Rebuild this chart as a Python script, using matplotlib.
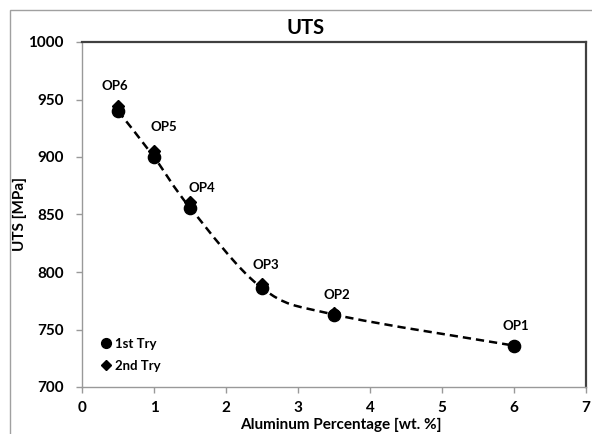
import matplotlib
matplotlib.use("Agg")
import matplotlib.pyplot as plt
import numpy as np
from matplotlib.path import Path
from matplotlib.patches import PathPatch, Rectangle

plt.rcParams["font.family"] = ["Lato", "DejaVu Sans"]
plt.rcParams["font.weight"] = "bold"

# Data
aluminum = [0.5, 1.0, 1.5, 2.5, 3.5, 6.0]
uts_try1 = [940, 900, 856, 786, 763, 736]
uts_try2 = [944, 905, 861, 790, 764, 736]
point_labels = ["OP6", "OP5", "OP4", "OP3", "OP2", "OP1"]

x_ticks = [0, 1, 2, 3, 4, 5, 6, 7]
y_ticks = [700, 750, 800, 850, 900, 950, 1000]

# label offsets in pixels (dx, dy) relative to the first-try marker
label_offsets = [(-3, 25), (10, 30), (12, 20), (4, 23), (3, 20), (2, 20)]


def smooth_path(xs, ys):
    """Catmull-Rom style smoothed line through the points as cubic Beziers."""
    pts = np.column_stack([xs, ys]).astype(float)
    n = len(pts)
    verts = [pts[0]]
    codes = [Path.MOVETO]
    for i in range(n - 1):
        p0 = pts[i - 1] if i > 0 else pts[i]
        p1 = pts[i]
        p2 = pts[i + 1]
        p3 = pts[i + 2] if i + 2 < n else pts[i + 1]
        c1 = p1 + (p2 - p0) / 6.0
        c2 = p2 - (p3 - p1) / 6.0
        verts += [c1, c2, p2]
        codes += [Path.CURVE4] * 3
    return Path(verts, codes)


fig = plt.figure(figsize=(5.92, 4.34), dpi=100)
ax = fig.add_axes([82 / 592, 1 - 387 / 434, 504 / 592, 345 / 434])

patch = PathPatch(smooth_path(aluminum, uts_try1), facecolor="none",
                  edgecolor="black", linewidth=1.8, linestyle=(0, (3.3, 2.0)),
                  zorder=2)
ax.add_patch(patch)

ax.plot(aluminum, uts_try1, linestyle="none", marker="o", markersize=8.8,
        color="black", label="1st Try", zorder=3)
ax.plot(aluminum, uts_try2, linestyle="none", marker="D", markersize=6.3,
        color="black", label="2nd Try", zorder=3)

for x, y, lab, (dx, dy) in zip(aluminum, uts_try1, point_labels, label_offsets):
    ax.annotate(lab, (x, y), xytext=(dx * 0.72, dy * 0.72),
                textcoords="offset points", ha="center", va="center",
                fontsize=9.5, fontweight="bold")

ax.set_xlim(0, 7)
ax.set_ylim(700, 1000)
ax.set_xticks(x_ticks)
ax.set_yticks(y_ticks)
ax.tick_params(direction="out", length=4, width=1, color="#999999",
               labelsize=11, pad=6)
ax.tick_params(axis="y", pad=9)
for lbl in ax.get_xticklabels() + ax.get_yticklabels():
    lbl.set_fontweight("bold")

for side in ["left", "bottom"]:
    ax.spines[side].set_color("#999999")
    ax.spines[side].set_linewidth(1)
for side in ["top", "right"]:
    ax.spines[side].set_color("#404040")
    ax.spines[side].set_linewidth(1.6)

leg = ax.legend(loc="lower left", bbox_to_anchor=(0.01, 0.005), frameon=False,
                handlelength=0.8, handletextpad=0.3, labelspacing=0.8,
                markerscale=0.8, prop={"size": 9.5, "weight": "bold"},
                borderaxespad=0.6)

fig.text(306 / 592, 1 - 28 / 434, "UTS", ha="center", va="center",
         fontsize=14.5, fontweight="bold")
fig.text(20 / 592, 1 - 214 / 434, "UTS [MPa]", ha="center", va="center",
         rotation=90, fontsize=11, fontweight="bold")
fig.text(341 / 592, 1 - 425 / 434, "Aluminum Percentage [wt. %]",
         ha="center", va="center", fontsize=11, fontweight="bold")

# chart-area border
fig.patches.append(Rectangle((9.5 / 592, -0.1), 1.2, 1 - 10.5 / 434 + 0.1,
                             transform=fig.transFigure, fill=False,
                             edgecolor="#a0a0a0", linewidth=1))

fig.savefig("out.png", dpi=100)
